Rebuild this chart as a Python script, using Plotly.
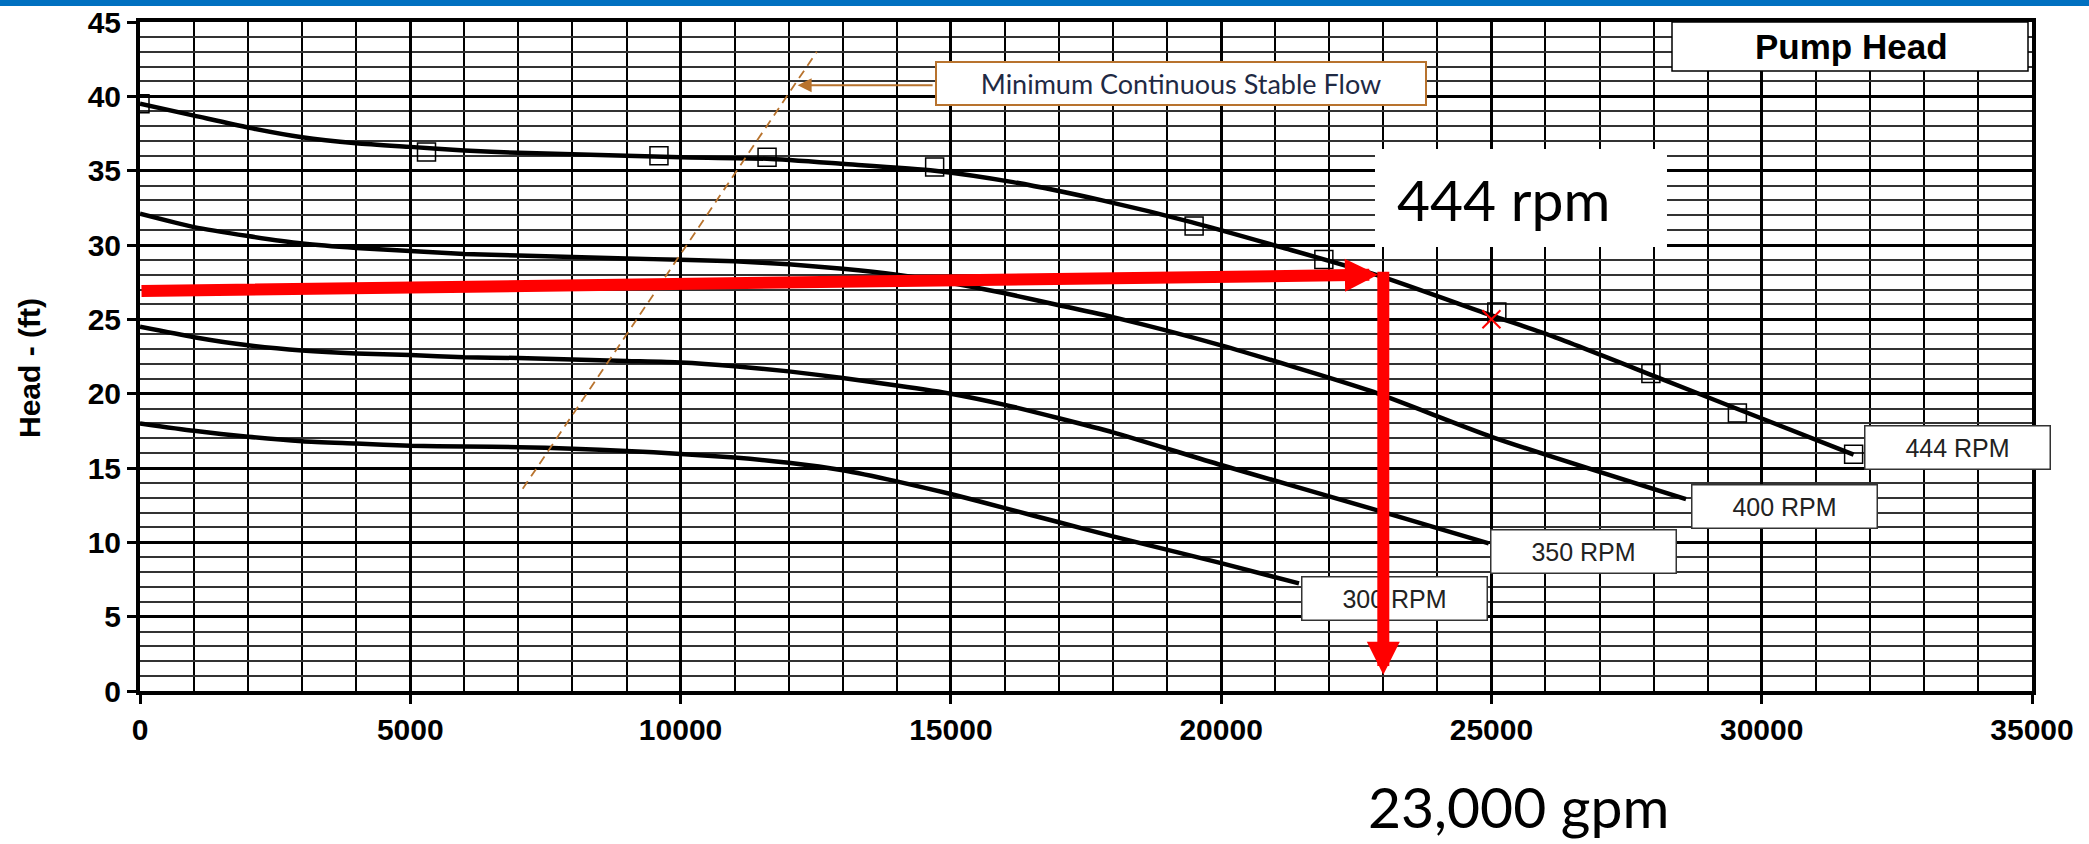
import plotly.graph_objects as go

# ---------------- data ----------------
# Pump head curves (flow in gpm, head in ft) for each speed
flow_444 = [0, 1000, 2000, 3000, 4000, 5000, 6000, 7000, 8000, 9000, 10000, 11600,
            13000, 14700, 16150, 17800, 19450, 21100, 22900, 25000, 26100, 28000, 29600, 31700]
head_444 = [39.5, 38.7, 37.9, 37.25, 36.85, 36.6, 36.36, 36.2, 36.1, 36.0, 35.9, 35.8,
            35.46, 35.0, 34.23, 33.0, 31.54, 29.86, 27.96, 25.27, 23.9, 21.2, 18.9, 15.9]

test_flow_444 = [0, 5300, 9600, 11600, 14700, 19500, 21900, 25100, 27950, 29550, 31700]
test_head_444 = [39.5, 36.25, 36.0, 35.9, 35.24, 31.27, 29.03, 25.5, 21.35, 18.7, 15.93]

flow_400 = [0, 1000, 2000, 3000, 4000, 5000, 6000, 7000, 8000, 9000, 10000, 11000,
            12000, 13000, 14000, 15000, 16000, 17000, 18000, 20000, 22750, 25000, 28600]
head_400 = [32.1, 31.2, 30.6, 30.1, 29.8, 29.6, 29.4, 29.3, 29.2, 29.1, 29.0, 28.9,
            28.7, 28.4, 28.0, 27.45, 26.75, 25.95, 25.15, 23.25, 20.2, 17.1, 12.9]

flow_350 = [0, 1000, 2000, 3000, 4000, 5000, 6000, 7000, 8000, 9000, 10000, 11000,
            12000, 13000, 14000, 15000, 16000, 17000, 18000, 20000, 22750, 24950]
head_350 = [24.5, 23.8, 23.25, 22.9, 22.7, 22.6, 22.45, 22.4, 22.3, 22.2, 22.1, 21.85,
            21.5, 21.05, 20.55, 20.0, 19.25, 18.35, 17.4, 15.2, 12.3, 9.93]

flow_300 = [0, 1000, 2000, 3000, 4000, 5000, 6000, 7000, 8000, 9000, 10000, 11000,
            12000, 13000, 14000, 15000, 16000, 17000, 18000, 20000, 21440]
head_300 = [18.0, 17.5, 17.1, 16.8, 16.65, 16.5, 16.45, 16.4, 16.3, 16.15, 15.95, 15.7,
            15.35, 14.85, 14.1, 13.25, 12.3, 11.35, 10.4, 8.6, 7.24]

# Minimum continuous stable flow boundary
mcsf_flow = [7080, 12520]
mcsf_head = [13.6, 43.0]

# Rated duty point
duty_flow = [25000]
duty_head = [25.0]

# Operating point read-off
op_flow = 23000
op_head = 28.0
op_start_head = 26.9

speed_labels = ["444 RPM", "400 RPM", "350 RPM", "300 RPM"]
x_ticks = [0, 5000, 10000, 15000, 20000, 25000, 30000, 35000]
y_ticks = [0, 5, 10, 15, 20, 25, 30, 35, 40, 45]

# ---------------- layout geometry ----------------
W, H = 2089, 844
L, R, T, B = 140, 57, 22, 153
PW, PH = W - L - R, H - T - B


def px(xp):
    return (xp - L) / PW


def py(yp):
    return (H - B - yp) / PH


ARIAL = "Arial, Liberation Sans, sans-serif"
CAL = "Lato, Carlito, sans-serif"
BROWN = "#B8732E"

fig = go.Figure()

curve_style = dict(color="black", width=4.5, shape="spline", smoothing=0.6)
for fx, fy in [(flow_444, head_444), (flow_400, head_400),
               (flow_350, head_350), (flow_300, head_300)]:
    fig.add_trace(go.Scatter(x=fx, y=fy, mode="lines", line=curve_style,
                             hoverinfo="skip", showlegend=False))

fig.add_trace(go.Scatter(
    x=test_flow_444, y=test_head_444, mode="markers",
    marker=dict(symbol="square-open", size=18, color="black", line=dict(width=1.5)),
    showlegend=False))

fig.add_trace(go.Scatter(
    x=mcsf_flow, y=mcsf_head, mode="lines",
    line=dict(color=BROWN, width=1.8, dash="9px,6px"), showlegend=False))

fig.add_trace(go.Scatter(
    x=duty_flow, y=duty_head, mode="markers",
    marker=dict(symbol="x-thin", size=18, line=dict(color="red", width=2)),
    showlegend=False))

shapes = [
    # top banner
    dict(type="rect", xref="paper", yref="paper", x0=px(0), x1=px(W), y0=py(0), y1=py(6),
         fillcolor="#0070C0", line=dict(width=0), layer="above"),
    # title box
    dict(type="rect", xref="paper", yref="paper", x0=px(1672), x1=px(2028), y0=py(22), y1=py(71),
         fillcolor="white", line=dict(color="black", width=1.5), layer="above"),
    # call-out background
    dict(type="rect", xref="paper", yref="paper", x0=px(1375), x1=px(1667), y0=py(149), y1=py(247),
         fillcolor="white", line=dict(width=0), layer="above"),
]

annotations = []


def text_at(xp, yp, text, font, **kw):
    d = dict(xref="paper", yref="paper", x=px(xp), y=py(yp), text=text, showarrow=False,
             xanchor="center", yanchor="middle", font=font)
    d.update(kw)
    annotations.append(d)


# y-axis title
text_at(29, 368, "Head - (ft)", dict(family=ARIAL, size=30, color="black", weight="bold"),
        textangle=-90)

text_at(1851, 46, "Pump Head", dict(family=ARIAL, size=35, color="black", weight="bold"))

# speed labels at the end of each curve
label_pos = [(31890, 16.4), (28700, 12.4), (24975, 9.37), (21480, 6.25)]
for txt, (lx, ly) in zip(speed_labels, label_pos):
    annotations.append(dict(x=lx, y=ly, xref="x", yref="y", text=txt, showarrow=False,
                            xanchor="left", yanchor="middle", width=180, height=38,
                            bgcolor="white", bordercolor="#333", borderwidth=1.5, borderpad=2,
                            font=dict(family=ARIAL, size=25, color="#222")))

# minimum continuous stable flow call-out
text_at(1181, 84, "Minimum Continuous Stable Flow",
        dict(family=CAL, size=27, color="#1F2A44"),
        width=484, height=37, bgcolor="white", bordercolor=BROWN, borderwidth=2, borderpad=2)
annotations.append(dict(x=12165, y=40.75, xref="x", yref="y", ax=14690, ay=40.75,
                        axref="x", ayref="y", text="", showarrow=True, arrowhead=2,
                        arrowsize=1.4, arrowwidth=2, arrowcolor=BROWN, standoff=0))

# operating point read-off
text_at(1503, 199, "444 rpm", dict(family=CAL, size=57, color="black"))
text_at(1518, 806, "23,000 gpm", dict(family=CAL, size=57, color="black"))

annotations.append(dict(x=op_flow - 100, y=op_head, xref="x", yref="y", ax=0, ay=op_start_head,
                        axref="x", ayref="y", text="", showarrow=True, arrowhead=2,
                        arrowsize=0.55, arrowwidth=12, arrowcolor="red", standoff=0))
annotations.append(dict(x=op_flow, y=1.1, xref="x", yref="y", ax=op_flow, ay=op_head + 0.3,
                        axref="x", ayref="y", text="", showarrow=True, arrowhead=2,
                        arrowsize=0.55, arrowwidth=12, arrowcolor="red", standoff=0))

axis_common = dict(
    showline=True, linecolor="black", linewidth=4, mirror=True,
    showgrid=True, gridcolor="black", gridwidth=2.5, zeroline=False,
    ticks="outside", ticklen=9, tickwidth=2.5, tickcolor="black",
    tickfont=dict(family=ARIAL, size=30, color="black", weight="bold"),
)

fig.update_layout(
    width=W, height=H,
    margin=dict(l=L, r=R, t=T, b=B, autoexpand=False),
    paper_bgcolor="white", plot_bgcolor="white",
    showlegend=False,
    xaxis=dict(range=[0, 35000], tickvals=x_ticks, ticktext=[str(v) for v in x_ticks],
               minor=dict(dtick=1000, tick0=0, showgrid=True, gridcolor="black", gridwidth=1.5,
                          ticks=""),
               **axis_common),
    yaxis=dict(range=[0, 45], tickvals=y_ticks, ticktext=[str(v) for v in y_ticks],
               minor=dict(dtick=1, tick0=0, showgrid=True, gridcolor="#333", gridwidth=1.6,
                          ticks=""),
               **axis_common),
    shapes=shapes,
    annotations=annotations,
)

fig.write_html("out.html")
